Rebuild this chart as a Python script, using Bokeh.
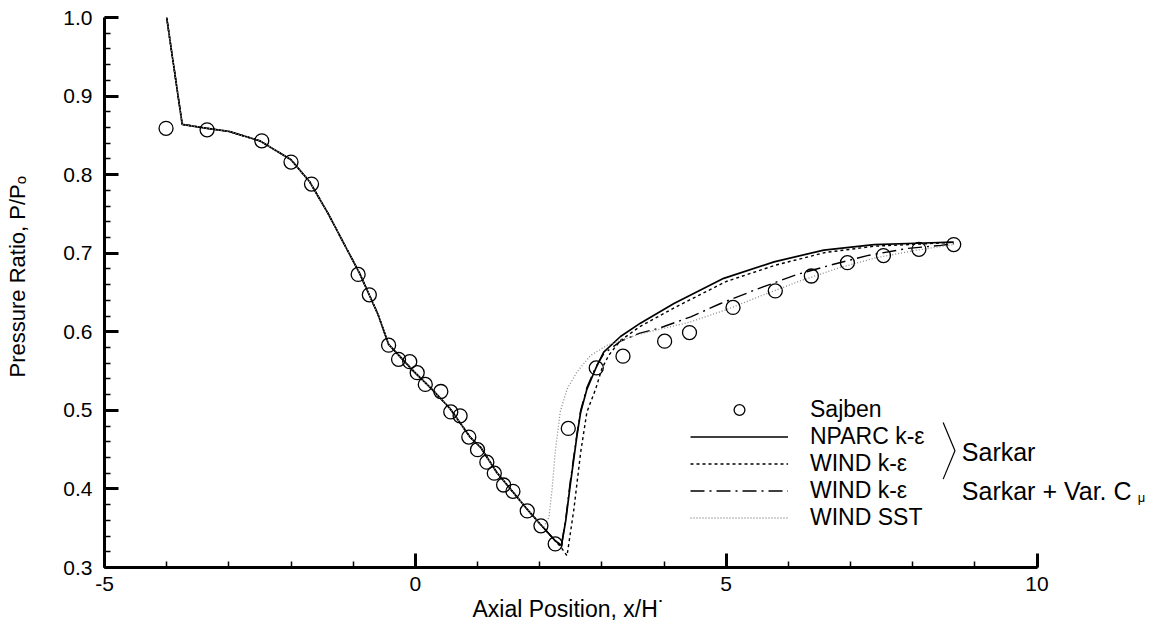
import math
from bokeh.plotting import figure
from bokeh.layouts import row
from bokeh.core.properties import value
from bokeh.models import (FixedTicker, Label, Legend, LegendItem, Range1d,
                          PrintfTickFormatter, Title)
from bokeh.embed import file_html
from bokeh.resources import INLINE

# ---------------- data ----------------
sajben_x = [-4.01, -3.35, -2.47, -2.00, -1.67, -0.92, -0.74, -0.43, -0.27, -0.09,
            0.03, 0.16, 0.41, 0.57, 0.72, 0.86, 1.00, 1.15, 1.27, 1.42, 1.57,
            1.80, 2.02, 2.25, 2.46, 2.91, 3.34, 4.01, 4.41, 5.11, 5.79, 6.37,
            6.95, 7.53, 8.10, 8.66]
sajben_y = [0.859, 0.857, 0.843, 0.816, 0.788, 0.673, 0.647, 0.583, 0.565, 0.562,
            0.548, 0.533, 0.524, 0.498, 0.493, 0.466, 0.450, 0.434, 0.420, 0.405,
            0.397, 0.372, 0.353, 0.330, 0.477, 0.554, 0.569, 0.588, 0.599, 0.631,
            0.652, 0.671, 0.688, 0.697, 0.705, 0.711]

# common upstream part of all computed curves
up_x = [-4.0, -3.75, -3.35, -3.0, -2.5, -2.0, -1.7, -1.4, -1.1, -0.9, -0.6,
        -0.43, -0.03, 0.29, 0.56, 0.88, 1.05, 1.31, 1.80, 2.0]
up_y = [1.0, 0.864, 0.859, 0.855, 0.843, 0.819, 0.791, 0.750, 0.705, 0.675,
        0.622, 0.584, 0.550, 0.525, 0.502, 0.466, 0.453, 0.421, 0.374, 0.356]

nparc_x = [2.25, 2.35, 2.42, 2.49, 2.6, 2.66, 2.76, 2.9, 3.03, 3.3, 3.62, 4.16,
           4.96, 5.77, 6.57, 7.38, 8.18, 8.66]
nparc_y = [0.334, 0.328, 0.360, 0.404, 0.468, 0.498, 0.527, 0.553, 0.574, 0.594,
           0.611, 0.636, 0.668, 0.689, 0.704, 0.711, 0.713, 0.714]

windke_x = [2.25, 2.35, 2.44, 2.55, 2.66, 2.76, 2.9, 3.0, 3.11, 3.3, 3.62, 4.2,
            5.0, 5.8, 6.6, 7.4, 8.2, 8.66]
windke_y = [0.334, 0.325, 0.315, 0.374, 0.447, 0.498, 0.527, 0.553, 0.570, 0.589,
            0.607, 0.632, 0.664, 0.685, 0.701, 0.709, 0.712, 0.714]

windvar_x = [2.25, 2.35, 2.42, 2.49, 2.6, 2.66, 2.76, 2.9, 3.03, 3.3, 3.6, 3.94,
             4.43, 4.91, 5.52, 6.14, 6.73, 7.27, 7.91, 8.45, 8.66]
windvar_y = [0.334, 0.328, 0.362, 0.408, 0.470, 0.500, 0.529, 0.555, 0.572, 0.588,
             0.598, 0.605, 0.619, 0.636, 0.655, 0.673, 0.686, 0.697, 0.706, 0.710,
             0.712]

sst_x = [2.06, 2.15, 2.2, 2.25, 2.33, 2.44, 2.6, 2.82, 3.09, 3.6, 4.4, 5.0, 5.6,
         6.2, 6.8, 7.4, 8.0, 8.66]
sst_y = [0.351, 0.364, 0.400, 0.447, 0.498, 0.527, 0.549, 0.570, 0.583, 0.597,
         0.612, 0.628, 0.647, 0.665, 0.681, 0.694, 0.703, 0.711]

x_major = [-5, 0, 5, 10]
y_major = [0.3, 0.4, 0.5, 0.6, 0.7, 0.8, 0.9, 1.0]

FONT = "Liberation Sans"
LAB_W = 60      # width of the strip that carries the y-axis title
LAB_H = 600

# ---------------- main figure ----------------
# frame is wider than the axis (axis bounded to -5..10) so that the
# group labels at the right stay inside the drawing area
p = figure(frame_width=1054, frame_height=550,
           min_border_left=104 - LAB_W, min_border_right=0,
           min_border_top=17, min_border_bottom=0,
           x_range=Range1d(-5, 11.954), y_range=Range1d(0.3, 1.0),
           output_backend="svg", toolbar_location=None)
p.outline_line_color = None
p.xgrid.visible = False
p.ygrid.visible = False
p.background_fill_color = "white"
p.border_fill_color = "white"

p.xaxis.ticker = FixedTicker(ticks=x_major, minor_ticks=list(range(-5, 11)))
p.xaxis.bounds = (-5, 10)
p.xaxis.formatter = PrintfTickFormatter(format="%d")
p.yaxis.ticker = FixedTicker(ticks=y_major,
                             minor_ticks=[round(0.3 + 0.02 * k, 2) for k in range(36)])
p.yaxis.formatter = PrintfTickFormatter(format="%.1f")

for ax in (p.xaxis, p.yaxis):
    ax.axis_line_width = 3
    ax.axis_line_color = "black"
    ax.major_tick_in = 14
    ax.major_tick_out = 0
    ax.minor_tick_in = 6
    ax.minor_tick_out = 0
    ax.major_tick_line_width = 3
    ax.minor_tick_line_width = 1.5
    ax.major_label_text_font = FONT
    ax.major_label_text_font_size = "21px"
    ax.major_label_text_color = "black"
p.xaxis.major_label_standoff = 9
p.yaxis.major_label_standoff = 12

# x-axis title
x_title = Title(text="Axial Position, x/H\u02d9", align="left", offset=368,
                standoff=0, text_font=FONT, text_font_size="23px",
                text_font_style="normal", text_color="black")
p.add_layout(x_title, "below")

# ---------------- curves ----------------
r_nparc = p.line(up_x + nparc_x, up_y + nparc_y, line_color="black", line_width=1.7)
r_windke = p.line(up_x + windke_x, up_y + windke_y, line_color="black",
                  line_width=1.4, line_dash="3 3")
r_windvar = p.line(up_x + windvar_x, up_y + windvar_y, line_color="black",
                   line_width=1.4, line_dash="14 5 2 5")
r_sst = p.line(up_x + sst_x, up_y + sst_y, line_color="#8a8a8a",
               line_width=1.3, line_dash="1 2")
r_sajben = p.scatter(sajben_x, sajben_y, marker="circle", size=14,
                     fill_color=None, line_color="black", line_width=1.3)

legend = Legend(items=[
    LegendItem(label="Sajben", renderers=[r_sajben]),
    LegendItem(label="NPARC k-\u03b5", renderers=[r_nparc]),
    LegendItem(label="WIND k-\u03b5", renderers=[r_windke]),
    LegendItem(label="WIND k-\u03b5", renderers=[r_windvar]),
    LegendItem(label="WIND SST", renderers=[r_sst]),
], location=(586, 36), glyph_width=98, glyph_height=27, label_height=27,
   label_standoff=22, spacing=0, padding=0, margin=0,
   border_line_alpha=0, background_fill_alpha=0,
   label_text_font=FONT, label_text_font_size="23px", label_text_color="black")
p.add_layout(legend)

# bracket and group labels
p.line([8.49, 8.68, 8.49], [0.4845, 0.4485, 0.4125], line_color="black", line_width=1.2)
p.add_layout(Label(x=8.79, y=0.4466, text="Sarkar", text_font=FONT,
                   text_font_size="25px", text_baseline="middle", text_align="left",
                   text_color="black"))
p.add_layout(Label(x=8.79, y=0.397, text="Sarkar + Var. C", text_font=FONT,
                   text_font_size="25px", text_baseline="middle", text_align="left",
                   text_color="black"))
p.add_layout(Label(x=11.62, y=0.389, text="\u03bc", text_font=FONT,
                   text_font_size="13px", text_baseline="middle", text_align="left",
                   text_color="black"))

# ---------------- y-axis title strip ----------------
lab = figure(width=LAB_W, height=LAB_H, x_range=Range1d(0, LAB_W),
             y_range=Range1d(0, LAB_H), min_border=0,
             x_axis_type=None, y_axis_type=None,
             output_backend="svg", toolbar_location=None)
lab.outline_line_color = None
lab.xgrid.visible = False
lab.ygrid.visible = False
lab.text(x=[16.5], y=[LAB_H - 294], text=["Pressure Ratio, P/P\u2092"],
         angle=math.pi / 2, text_align="center", text_baseline="middle",
         text_font=value(FONT), text_font_size="22px", text_color="black")

layout = row(lab, p)
open("out.html", "w").write(file_html(layout, INLINE))
